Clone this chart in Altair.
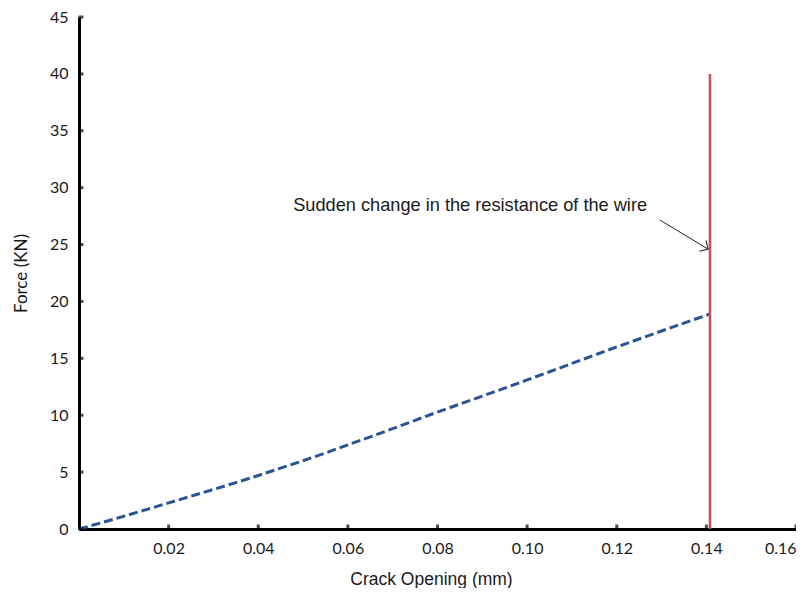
import altair as alt
import pandas as pd

# ---- data ----
crack_opening = [0.0, 0.005, 0.01, 0.015, 0.02, 0.025, 0.03, 0.035, 0.04, 0.045,
                 0.05, 0.055, 0.06, 0.065, 0.07, 0.075, 0.08, 0.085, 0.09, 0.095,
                 0.10, 0.105, 0.11, 0.115, 0.12, 0.125, 0.13, 0.135, 0.1408]
force = [0.0, 0.55, 1.12, 1.7, 2.3, 2.88, 3.48, 4.08, 4.7, 5.35,
         6.0, 6.68, 7.4, 8.1, 8.82, 9.55, 10.28, 10.98, 11.68, 12.38,
         13.1, 13.82, 14.55, 15.28, 16.0, 16.7, 17.4, 18.1, 18.9]

x_ticks = [0.02, 0.04, 0.06, 0.08, 0.10, 0.12, 0.14, 0.16]
y_ticks = [0, 5, 10, 15, 20, 25, 30, 35, 40, 45]

wire_x = [0.1408]
wire_y0 = [0]
wire_y1 = [40]

note_text = ["Sudden change in the resistance of the wire"]
note_x = [0.0478]
note_y = [28.35]

arrow_x0 = [0.1296]
arrow_y0 = [27.16]
arrow_x1 = [0.1404]
arrow_y1 = [24.6]

# ---- chart ----
xs = alt.Scale(domain=[0, 0.16], nice=False, zero=True)
ys = alt.Scale(domain=[0, 45], nice=False, zero=True)

curve_df = pd.DataFrame({"x": crack_opening, "y": force})

curve = alt.Chart(curve_df).mark_line(
    color="#2A5391", strokeWidth=3, strokeDash=[9, 4], strokeCap="butt"
).encode(
    x=alt.X("x:Q", scale=xs, axis=alt.Axis(
        title="Crack Opening (mm)", values=x_ticks, format=".2f", labelFlush=True,
        titleFont="Liberation Sans", titleFontSize=17.5, titlePadding=14,
        titleAnchor="middle", titleX=352,
        labelPadding=11)),
    y=alt.Y("y:Q", scale=ys, axis=alt.Axis(
        title="Force (KN)", values=y_ticks, format="d",
        titleFont="Lato", titleFontSize=17, titlePadding=19,
        labelPadding=11)),
)

xtick_df = pd.DataFrame({"x": x_ticks, "y": [0] * len(x_ticks)})
ytick_df = pd.DataFrame({"x": [0] * len(y_ticks), "y": y_ticks})

xt = alt.Chart(xtick_df).mark_tick(
    orient="vertical", size=5, thickness=3, color="black", yOffset=-2
).encode(x=alt.X("x:Q", scale=xs), y=alt.Y("y:Q", scale=ys))

yt = alt.Chart(ytick_df).mark_tick(
    orient="horizontal", size=5, thickness=3, color="black", xOffset=2
).encode(x=alt.X("x:Q", scale=xs), y=alt.Y("y:Q", scale=ys))

wire = alt.Chart(pd.DataFrame({"x": wire_x, "y": wire_y0, "y2": wire_y1})).mark_rule(
    color="#C8504D", strokeWidth=2.5
).encode(x=alt.X("x:Q", scale=xs), y=alt.Y("y:Q", scale=ys), y2="y2:Q")

note = alt.Chart(pd.DataFrame({"x": note_x, "y": note_y, "t": note_text})).mark_text(
    align="left", baseline="middle", font="Liberation Sans", fontSize=18.2, color="#1a1a1a"
).encode(x=alt.X("x:Q", scale=xs), y=alt.Y("y:Q", scale=ys), text="t:N")

arrow_df = pd.DataFrame({"x": arrow_x0, "y": arrow_y0, "x2": arrow_x1, "y2": arrow_y1})
arrow_line = alt.Chart(arrow_df).mark_rule(color="#222222", strokeWidth=1).encode(
    x=alt.X("x:Q", scale=xs), y=alt.Y("y:Q", scale=ys), x2="x2:Q", y2="y2:Q")
arrow_head = alt.Chart(arrow_df).mark_point(
    shape="M-1,-1L0,0L-1,1", angle=31, size=160, filled=False,
    color="#222222", strokeWidth=1, opacity=1
).encode(x=alt.X("x2:Q", scale=xs), y=alt.Y("y2:Q", scale=ys))

chart = alt.layer(curve, wire, xt, yt, arrow_line, arrow_head, note).properties(
    width=717, height=512,
    autosize=alt.AutoSizeParams(type="none"),
    padding={"left": 71, "top": 9, "right": 0, "bottom": 59},
).configure_view(stroke=None).configure_axis(
    domainColor="black", domainWidth=3, ticks=False, tickSize=0, grid=False,
    labelFont="Lato", labelFontSize=16, labelColor="#1a1a1a",
    titleColor="#1a1a1a", titleFontWeight="normal",
)

chart.save("out.html", embed_options={"renderer": "svg", "actions": False})
